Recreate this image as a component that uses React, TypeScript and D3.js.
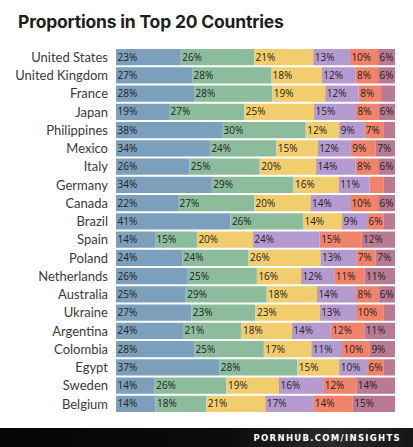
import React from "react";
import * as d3 from "d3";

const countries = ["United States","United Kingdom","France","Japan","Philippines","Mexico","Italy","Germany","Canada","Brazil","Spain","Poland","Netherlands","Australia","Ukraine","Argentina","Colombia","Egypt","Sweden","Belgium"];
const s1 = [23,27,28,19,38,34,26,34,22,41,14,24,26,25,27,24,28,37,14,14];
const s2 = [26,28,28,27,30,24,25,29,27,26,15,24,25,29,23,21,25,28,26,18];
const s3 = [21,18,19,25,12,15,20,16,20,14,20,26,16,18,23,18,17,15,19,21];
const s4 = [13,12,12,15,9,12,14,11,14,9,24,13,12,14,13,14,11,10,16,17];
const s5 = [10,8,8,8,7,9,8,5,10,6,15,7,11,8,10,12,10,6,12,14];
const s6 = [6,6,5,6,4,7,6,4,6,4,12,7,11,6,4,11,9,4,14,15];
const series = [s1, s2, s3, s4, s5, s6];
const colors = ["#7c9fbb","#8cbc9c","#f2cd6d","#b59ad0","#f0836a","#b97a93"];

export default function App() {
  const W = 413, H = 447;
  const x = d3.scaleLinear().domain([0, 1]).range([116, 395]);
  const y = d3.scaleBand().domain(countries).range([49, 412]).paddingInner(0.11).paddingOuter(0.0);
  return (
    <svg width={W} height={H} style={{ position: "absolute", left: 0, top: 0, display: "block" }}
      fontFamily="Montserrat, 'Open Sans', Inter, sans-serif">
      <defs>
        <linearGradient id="ft" x1="0" x2="1" y1="0" y2="0">
          <stop offset="0" stopColor="#050505" />
          <stop offset="0.55" stopColor="#0b0b0b" />
          <stop offset="0.8" stopColor="#2a2a2a" />
          <stop offset="1" stopColor="#161616" />
        </linearGradient>
      </defs>
      <rect width={W} height={H} fill="#ffffff" />
      <text x={18} y={28} fontSize={17.5} fontWeight={700} fill="#1e1e1e" fontFamily="Inter, sans-serif" letterSpacing={-0.2}>
        Proportions in Top 20 Countries
      </text>
      {countries.map((c, i) => {
        const total = series.reduce((a, s) => a + s[i], 0);
        let cum = 0;
        const yy = y(c)!;
        const bh = y.bandwidth();
        return (
          <g key={c}>
            <text x={108} y={yy + bh / 2} dy="0.36em" textAnchor="end" fontSize={13} fill="#3a3a3a" fontFamily="Lato, sans-serif">
              {c}
            </text>
            {series.map((s, k) => {
              const v = s[i];
              const x0 = x(cum / total);
              cum += v;
              const x1 = x(cum / total);
              return (
                <g key={k}>
                  <rect x={x0} y={yy} width={x1 - x0} height={bh} fill={colors[k]} />
                  {v >= 6 && (
                    <text x={x0 + 1.5} y={yy + bh / 2} dy="0.35em" fontSize={10} fill="#222" fontFamily="'Open Sans', sans-serif">
                      {v}%
                    </text>
                  )}
                </g>
              );
            })}
          </g>
        );
      })}
      <rect x={0} y={428} width={W} height={H - 428} fill="url(#ft)" />
      <text x={401} y={441} textAnchor="end" fontSize={8.5} fontWeight={700} fill="#ffffff" letterSpacing={1.3} fontFamily="'DejaVu Sans', sans-serif">
        PORNHUB.COM/INSIGHTS
      </text>
    </svg>
  );
}
